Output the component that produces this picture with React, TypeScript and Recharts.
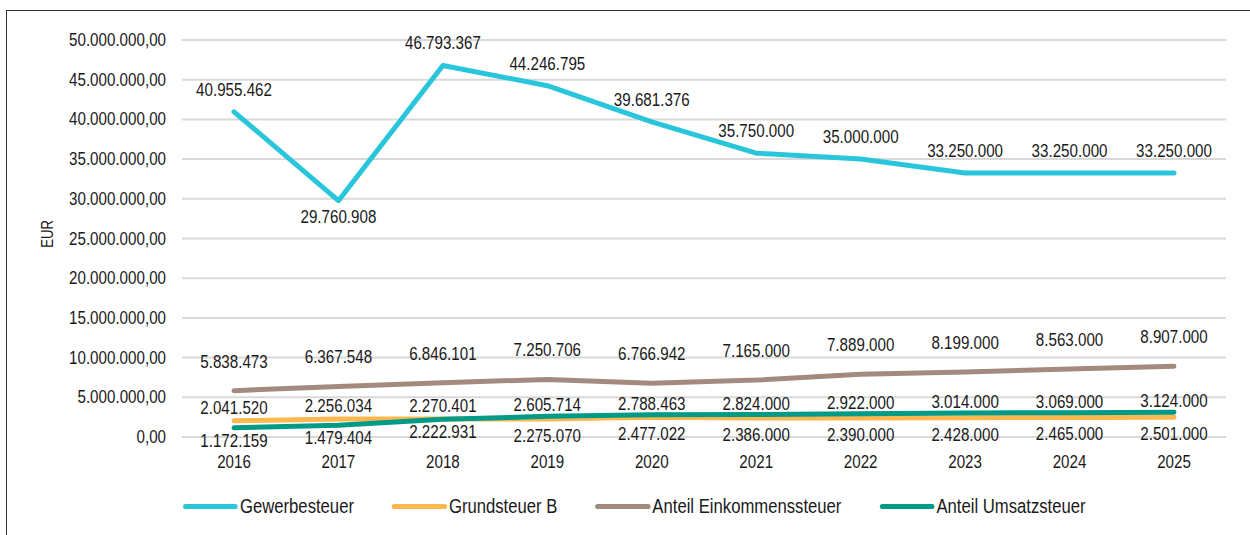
import React from 'react';
import { LineChart, Line, XAxis, YAxis, CartesianGrid, LabelList } from 'recharts';

const years = ['2016', '2017', '2018', '2019', '2020', '2021', '2022', '2023', '2024', '2025'];
const gewerbesteuer = [40955462, 29760908, 46793367, 44246795, 39681376, 35750000, 35000000, 33250000, 33250000, 33250000];
const grundsteuerB = [2041520, 2256034, 2270401, 2275070, 2477022, 2386000, 2390000, 2428000, 2465000, 2501000];
const einkommensteuer = [5838473, 6367548, 6846101, 7250706, 6766942, 7165000, 7889000, 8199000, 8563000, 8907000];
const umsatzsteuer = [1172159, 1479404, 2222931, 2605714, 2788463, 2824000, 2922000, 3014000, 3069000, 3124000];
const yTicks = [0, 5000000, 10000000, 15000000, 20000000, 25000000, 30000000, 35000000, 40000000, 45000000, 50000000];

const seriesNames = ['Gewerbesteuer', 'Grundsteuer B', 'Anteil Einkommenssteuer', 'Anteil Umsatzsteuer'];
const colors = ['#29C5DA', '#FDB74F', '#A28A7F', '#009A88'];

const data = years.map((y, i) => ({
  year: y,
  gew: gewerbesteuer[i],
  grund: grundsteuerB[i],
  eink: einkommensteuer[i],
  ums: umsatzsteuer[i],
}));

const FONT = '"Liberation Sans", Arial, sans-serif';
const NARROW = 0.82;
const LEG_NARROW = 0.855;
const TEXT = '#1a1a1a';

function group(n: number): string {
  const s = Math.round(Math.abs(n)).toString();
  return s.replace(/\B(?=(\d{3})+(?!\d))/g, '.');
}
function fmtTick(n: number): string {
  return group(n) + ',00';
}

function NarrowText({ x, y, anchor, size, children }: { x: number; y: number; anchor: 'start' | 'middle' | 'end'; size: number; children: React.ReactNode }) {
  return (
    <g transform={`translate(${x},${y}) scale(${NARROW},1)`}>
      <text x={0} y={0} textAnchor={anchor} dominantBaseline="central" fontFamily={FONT} fontSize={size} fill={TEXT}>
        {children}
      </text>
    </g>
  );
}

type Rule = (i: number) => boolean; // true => above
function makeLabel(above: Rule, upOff: number, downOff: number) {
  return (props: any) => {
    const { x, y, value, index } = props;
    const up = above(index);
    return (
      <NarrowText x={x} y={y + (up ? upOff : downOff)} anchor="middle" size={18.5}>
        {group(value)}
      </NarrowText>
    );
  };
}

const gewAbove: Rule = (i) => {
  const v = gewerbesteuer[i];
  const p = gewerbesteuer[i - 1];
  const n = gewerbesteuer[i + 1];
  return !(p !== undefined && n !== undefined && v < p && v < n);
};
const grundAbove: Rule = (i) => grundsteuerB[i] >= umsatzsteuer[i];
const umsAbove: Rule = (i) => umsatzsteuer[i] > grundsteuerB[i];
const einkAbove: Rule = () => true;

const XTick = (props: any) => (
  <NarrowText x={props.x} y={props.y + 7} anchor="middle" size={18.5}>
    {props.payload.value}
  </NarrowText>
);
const YTick = (props: any) => (
  <NarrowText x={props.x} y={props.y} anchor="end" size={18.5}>
    {fmtTick(props.payload.value)}
  </NarrowText>
);

export default function App() {
  return (
    <div style={{ position: 'absolute', left: 0, top: 0, width: 1250, height: 535, background: '#fff', overflow: 'hidden' }}>
      <div
        style={{
          position: 'absolute',
          left: 6,
          top: 10,
          width: 1260,
          height: 540,
          border: '1.5px solid #333',
          boxSizing: 'border-box',
        }}
      />
      <div style={{ position: 'absolute', left: 0, top: 0 }}>
        <LineChart width={1250} height={535} data={data} margin={{ top: 40, right: 24, bottom: 68, left: 0 }}>
          <CartesianGrid horizontal vertical={false} stroke="#D9D9D9" strokeWidth={2} />
          <XAxis
            dataKey="year"
            axisLine={false}
            tickLine={false}
            tickSize={6}
            tickMargin={12}
            height={30}
            padding={{ left: 52, right: 52 }}
            tick={XTick}
          />
          <YAxis
            width={182}
            domain={[0, 50000000]}
            ticks={yTicks}
            interval={0}
            axisLine={false}
            tickLine={false}
            tickSize={6}
            tickMargin={10}
            tick={YTick}
          />
          <Line dataKey="gew" name={seriesNames[0]} stroke={colors[0]} strokeWidth={5} dot={false} strokeLinecap="round" strokeLinejoin="round" isAnimationActive={false} type="linear">
            <LabelList dataKey="gew" content={makeLabel(gewAbove, -22, 16)} />
          </Line>
          <Line dataKey="grund" name={seriesNames[1]} stroke={colors[1]} strokeWidth={5} dot={false} strokeLinecap="round" strokeLinejoin="round" isAnimationActive={false} type="linear">
            <LabelList dataKey="grund" content={makeLabel(grundAbove, -13, 17)} />
          </Line>
          <Line dataKey="eink" name={seriesNames[2]} stroke={colors[2]} strokeWidth={5} dot={false} strokeLinecap="round" strokeLinejoin="round" isAnimationActive={false} type="linear">
            <LabelList dataKey="eink" content={makeLabel(einkAbove, -29, 16)} />
          </Line>
          <Line dataKey="ums" name={seriesNames[3]} stroke={colors[3]} strokeWidth={5} dot={false} strokeLinecap="round" strokeLinejoin="round" isAnimationActive={false} type="linear">
            <LabelList dataKey="ums" content={makeLabel(umsAbove, -11, 13)} />
          </Line>
        </LineChart>
      </div>
      <div
        style={{
          position: 'absolute',
          left: 48,
          top: 234,
          transform: `translate(-50%, -50%) rotate(-90deg) scaleX(${NARROW})`,
          fontFamily: FONT,
          fontSize: 16,
          lineHeight: '16px',
          color: TEXT,
          whiteSpace: 'nowrap',
        }}
      >
        EUR
      </div>
      <div
        style={{
          position: 'absolute',
          left: 183,
          top: 495,
          display: 'flex',
          alignItems: 'center',
          gap: 38 / LEG_NARROW,
          fontFamily: FONT,
          fontSize: 19.5,
          lineHeight: '22px',
          color: TEXT,
          whiteSpace: 'nowrap',
          transform: `scaleX(${LEG_NARROW})`,
          transformOrigin: 'left center',
        }}
      >
        {seriesNames.map((n, i) => (
          <div key={n} style={{ display: 'flex', alignItems: 'center' }}>
            <span style={{ display: 'inline-block', width: 55 / LEG_NARROW, height: 5, borderRadius: 3, background: colors[i], marginRight: 2 / LEG_NARROW }} />
            <span>{n}</span>
          </div>
        ))}
      </div>
    </div>
  );
}
